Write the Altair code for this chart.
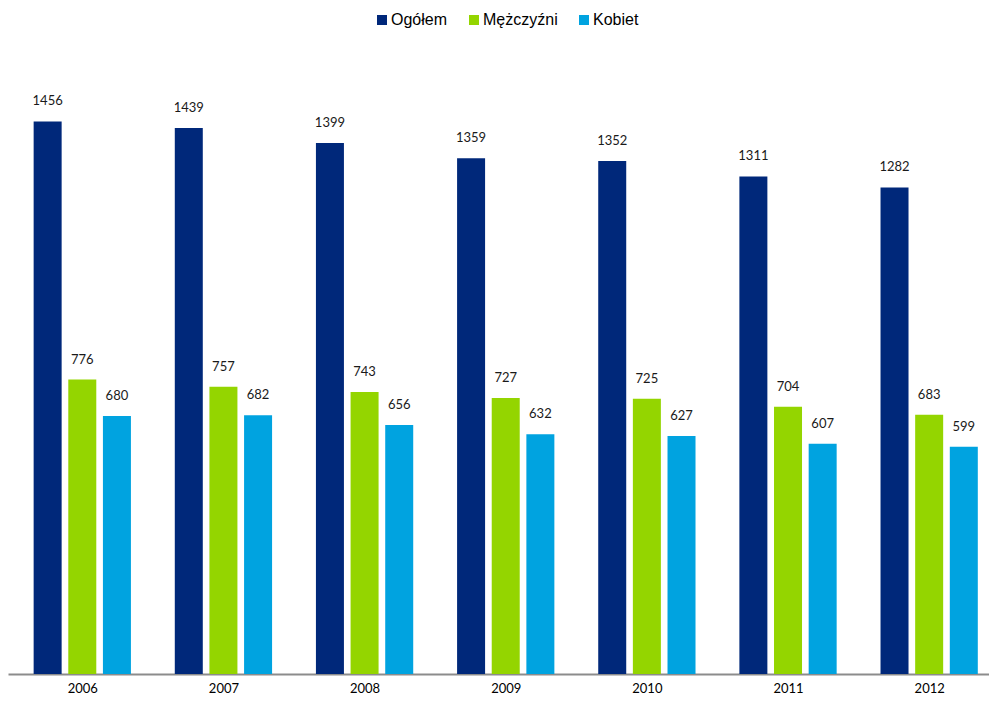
import altair as alt
import pandas as pd

years = ["2006", "2007", "2008", "2009", "2010", "2011", "2012"]
series = ["Ogółem", "Mężczyźni", "Kobiet"]
ogolem = [1456, 1439, 1399, 1359, 1352, 1311, 1282]
mezczyzni = [776, 757, 743, 727, 725, 704, 683]
kobiet = [680, 682, 656, 632, 627, 607, 599]
colors = ["#00287A", "#94D500", "#00A3E0"]

rows = []
for i, yr in enumerate(years):
    for j, (s, vals) in enumerate(zip(series, [ogolem, mezczyzni, kobiet])):
        rows.append({"idx": i, "year": yr, "series": s, "sidx": j, "value": vals[i]})
df = pd.DataFrame(rows)

W, H = 981, 666
STEP_PX = 142.6           # group spacing in pixels
FIRST_PX = 70.0           # centre of first group from plot's left edge
SLOT = 35 / STEP_PX       # bar slot within a group, in group units
x_dom = [-FIRST_PX / STEP_PX, (W - FIRST_PX) / STEP_PX]

label_expr = "[" + ",".join("'%s'" % y for y in years) + "][datum.value]"

x = alt.X(
    "pos:Q",
    scale=alt.Scale(domain=x_dom, nice=False, zero=False),
    axis=alt.Axis(
        title=None, values=list(range(len(years))), labelExpr=label_expr,
        labelAngle=0, ticks=False, domainColor="#8c8c8c", domainWidth=2,
        labelFont="Lato", labelFontSize=13, labelColor="#000000",
        labelPadding=8, grid=False, labelFlush=False, labelOverlap=False,
    ),
)
y = alt.Y("value:Q", scale=alt.Scale(domain=[0, 1755], nice=False), axis=None)

base = alt.Chart(df).transform_calculate(
    pos=f"datum.idx + (datum.sidx - 1) * {SLOT}"
)

bars = base.mark_bar(size=28, orient="vertical").encode(
    x=x, y=y,
    color=alt.Color(
        "series:N", sort=series,
        scale=alt.Scale(domain=series, range=colors),
        legend=alt.Legend(
            title=None, orient="none", legendX=366, legendY=4,
            direction="horizontal", symbolType="square", symbolSize=100,
            symbolStrokeWidth=0, symbolOpacity=1, labelFont="Liberation Sans",
            labelFontSize=16, labelColor="#000000", labelOffset=1,
            columnPadding=18, gridAlign="none", labelLimit=300,
        ),
    ),
)

labels = base.mark_text(
    dy=-20, font="Lato", fontSize=13, color="#1a1a1a"
).encode(x=x, y=y, text="value:Q")

chart = (bars + labels).properties(
    width=W, height=H,
    autosize=alt.AutoSizeParams(type="none"),
    padding={"left": 0, "top": 0, "right": 0, "bottom": 20},
).configure_view(stroke=None)

chart.save("out.html", embed_options={"renderer": "svg", "actions": False})
